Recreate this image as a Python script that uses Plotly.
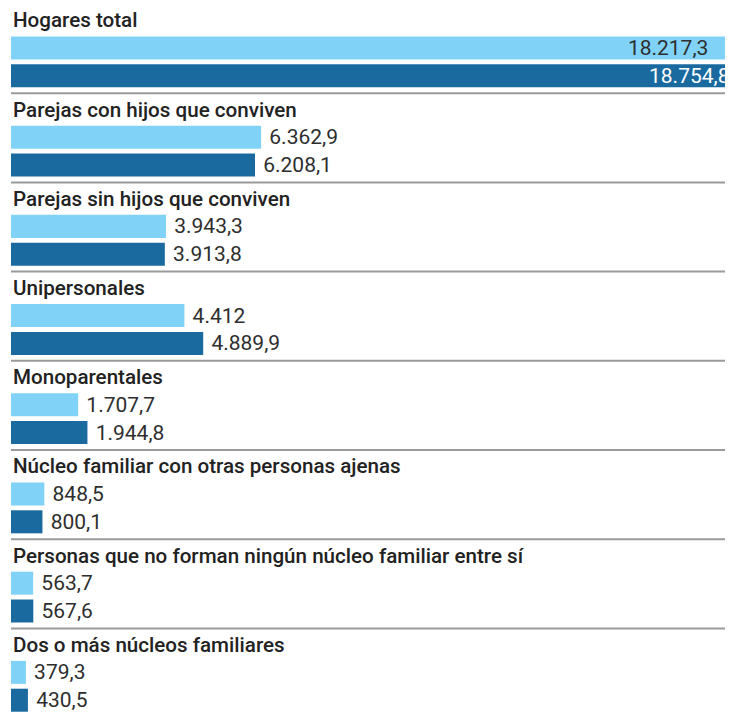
import plotly.graph_objects as go

categories = [
    "Hogares total",
    "Parejas con hijos que conviven",
    "Parejas sin hijos que conviven",
    "Unipersonales",
    "Monoparentales",
    "Núcleo familiar con otras personas ajenas",
    "Personas que no forman ningún núcleo familiar entre sí",
    "Dos o más núcleos familiares",
]
values_a = [18217.3, 6362.9, 3943.3, 4412, 1707.7, 848.5, 563.7, 379.3]
values_b = [18754.8, 6208.1, 3913.8, 4889.9, 1944.8, 800.1, 567.6, 430.5]
labels_a = ["18.217,3", "6.362,9", "3.943,3", "4.412", "1.707,7", "848,5", "563,7", "379,3"]
labels_b = ["18.754,8", "6.208,1", "3.913,8", "4.889,9", "1.944,8", "800,1", "567,6", "430,5"]

LIGHT = "#80d3f7"
DARK = "#1a6aa0"
TEXT = "#2e2e2e"
NB = "\u00a0"

# page has an 8px body margin; figure sized to fit the 733x714 window
OFF = 8
W, H = 733 - OFF, 714 - OFF
ML = 11 - OFF
PITCH = 89.2          # px per group
TOP = 4 - OFF         # px (figure coords) of first virtual separator
n = len(categories)

# positions in group units
ya = [i + 0.493 for i in range(n)]
yb = [i + 0.805 for i in range(n)]
bw = 0.258

def pos(i):
    return "inside" if i == 0 else "outside"

def txt(lbl, i):
    return (lbl + NB * 3) if i == 0 else (NB + lbl)

NUMFONT = dict(family="Roboto", size=21)

fig = go.Figure()
fig.add_trace(go.Bar(
    x=values_a, y=ya, orientation="h", width=bw,
    marker=dict(color=LIGHT, line=dict(width=0)),
    text=[txt(l, i) for i, l in enumerate(labels_a)],
    textposition=[pos(i) for i in range(n)],
    insidetextanchor="end",
    constraintext="none",
    insidetextfont=dict(NUMFONT, color=TEXT),
    outsidetextfont=dict(NUMFONT, color=TEXT),
    cliponaxis=True, hoverinfo="skip",
))
fig.add_trace(go.Bar(
    x=values_b, y=yb, orientation="h", width=bw,
    marker=dict(color=DARK, line=dict(width=0)),
    text=[txt(l, i) for i, l in enumerate(labels_b)],
    textposition=[pos(i) for i in range(n)],
    insidetextanchor="end",
    constraintext="none",
    insidetextfont=dict(NUMFONT, color="white"),
    outsidetextfont=dict(NUMFONT, color=TEXT),
    cliponaxis=True, hoverinfo="skip",
))

for i, c in enumerate(categories):
    fig.add_annotation(
        x=0, xref="paper", y=i + 0.183, yref="y",
        text=c, showarrow=False, xanchor="left", yanchor="middle",
        font=dict(family="Roboto", size=20.6, color="#222222", weight=500),
    )
    if i < n - 1:
        fig.add_shape(type="line", xref="paper", x0=0, x1=1, yref="y",
                      y0=i + 1, y1=i + 1, line=dict(color="#9a9a9a", width=2))

plot_w = W - ML
xmax = values_a[0] * plot_w / 716.0
y_bottom = (H - TOP) / PITCH
y_top = -TOP / PITCH

fig.update_layout(
    width=W, height=H,
    margin=dict(l=ML, r=0, t=0, b=0),
    paper_bgcolor="white", plot_bgcolor="white",
    showlegend=False, barmode="overlay",
    xaxis=dict(range=[0, xmax], visible=False, fixedrange=True),
    yaxis=dict(range=[y_bottom, y_top], visible=False, fixedrange=True),
)

fig.write_html("out.html")
